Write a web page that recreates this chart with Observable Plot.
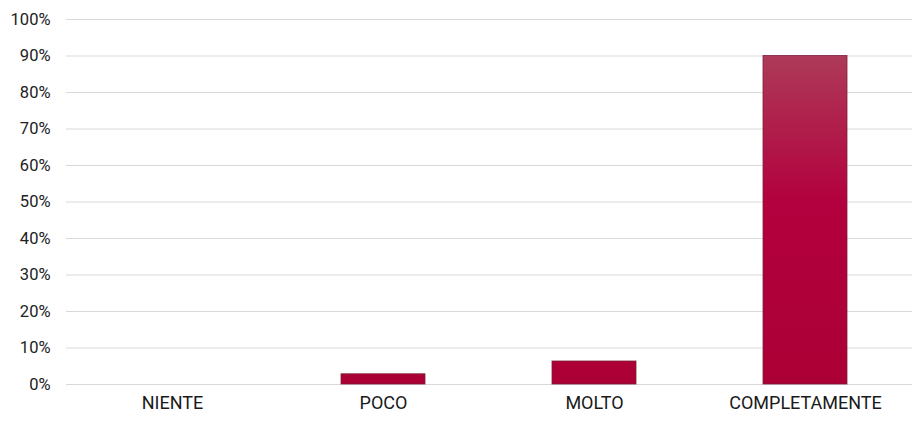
<!DOCTYPE html>
<html>
<head>
<meta charset="utf-8">
<script src="https://cdn.jsdelivr.net/npm/d3@7"></script>
<script src="https://cdn.jsdelivr.net/npm/@observablehq/plot@0.6"></script>
<style>
  html, body { margin: 0; padding: 0; background: #fff; }
  #chart { width: 916px; height: 424px; }
</style>
</head>
<body>
<div id="chart"></div>
<script>
const categories = ["NIENTE", "POCO", "MOLTO", "COMPLETAMENTE"];
const values = [0, 2.8, 6.3, 90];
const yTicks = [0, 10, 20, 30, 40, 50, 60, 70, 80, 90, 100];

const data = categories.map((c, i) => ({ cat: c, value: values[i] }));

const defs = () => {
  const d = d3.create("svg:defs");
  const g = d.append("linearGradient")
    .attr("id", "barGrad")
    .attr("gradientUnits", "userSpaceOnUse")
    .attr("x1", 0).attr("x2", 0).attr("y1", 56).attr("y2", 384);
  g.append("stop").attr("offset", "0").attr("stop-color", "#ad3a58");
  g.append("stop").attr("offset", "0.45").attr("stop-color", "#b3003e");
  g.append("stop").attr("offset", "1").attr("stop-color", "#ab0036");
  return d.node();
};

const chart = Plot.plot({
  width: 916,
  height: 424,
  marginLeft: 66,
  marginRight: 4,
  marginTop: 19,
  marginBottom: 40,
  style: { fontFamily: "Roboto, 'Liberation Sans', sans-serif", fontSize: "16px", color: "#222", background: "#fff" },
  x: { domain: categories, paddingInner: 0.6, paddingOuter: 0.3, label: null },
  y: { domain: [0, 100], label: null },
  marks: [
    defs,
    Plot.ruleY(yTicks, { stroke: "#d9d9d9", strokeWidth: 1 }),
    Plot.barY(data, { x: "cat", y: "value", fill: "url(#barGrad)", stroke: "#7e1f38", strokeWidth: 1, strokeOpacity: 0.8 }),
    Plot.axisY({ ticks: yTicks, tickFormat: d => d + "%", tickSize: 0, tickPadding: 16, fontSize: 16.5, fill: "#222" }),
    Plot.axisX({ tickSize: 0, tickPadding: 12, fontSize: 18, fill: "#1a1a1a" })
  ]
});
document.getElementById("chart").appendChild(chart);
</script>
</body>
</html>
